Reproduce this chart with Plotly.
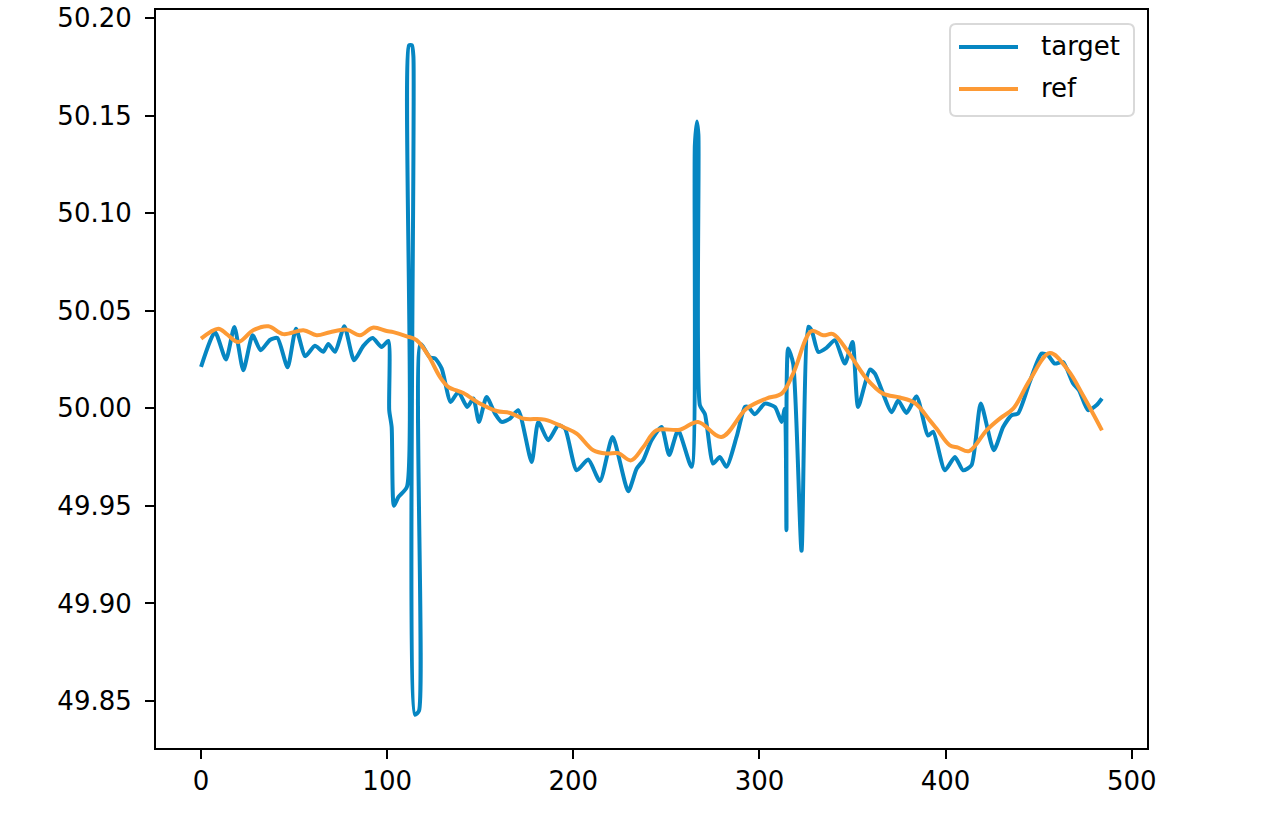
import plotly.graph_objects as go

# ---- data ----
target_x = [0, 7.5, 13.4, 17.9, 22.7, 27.7, 32, 37, 41, 46.5,
            51, 56, 61.2, 65.7, 68.4, 72, 77, 82.2, 87.2, 92.2,
            97, 100.6, 101.1, 102.4, 103.6, 106, 110.6, 111.7, 113.3, 114.1,
            114.9, 117.1, 117.9, 123, 125.7, 129.3, 134.1, 138.2, 143, 146.3,
            149.3, 153.4, 157.9, 161.5, 166, 170.4, 177.6, 181.2, 186.5, 191.9,
            195.5, 201.8, 208, 214.3, 221.1, 229.5, 234, 237.5, 242, 247.4,
            251.5, 256.3, 263.5, 265.3, 266.4, 267.2, 268, 270.7, 275.1, 278.7,
            282.3, 287.7, 292.2, 294, 297.5, 302.9, 308.3, 311.9, 313.6, 314.5,
            315.4, 318.1, 322.6, 326.2, 328, 331.6, 336, 340.5, 345.9, 350,
            353, 359.3, 362, 371, 374.5, 379, 384.4, 390.6, 393.3, 399.6,
            405, 409.4, 413.9, 418.9, 425.9, 430.9, 435.4, 438.9, 445.2, 451.5,
            455, 458.6, 463.1, 468.5, 471.7, 476.5, 481, 484]
target_y = [50.0212, 50.039, 50.025, 50.0417, 50.0195, 50.0374, 50.0297, 50.035, 50.036, 50.021,
            50.0408, 50.0267, 50.032, 50.029, 50.033, 50.0289, 50.042, 50.0246, 50.032, 50.036,
            50.0314, 50.0345, 49.999, 49.9904, 49.950, 49.9545, 49.9597, 50.186, 50.186, 50.18,
            49.843, 49.845, 50.033, 50.026, 50.0256, 50.0203, 50.0032, 50.0084, 50.0007, 50.005,
            49.993, 50.0058, 49.9973, 49.993, 49.9947, 49.999, 49.9725, 49.993, 49.9836, 49.9913,
            49.9896, 49.9682, 49.9737, 49.9627, 49.9853, 49.9575, 49.969, 49.9733, 49.9836, 49.9904,
            49.976, 49.9887, 49.970, 50.135, 50.147, 50.14, 50.0015, 49.997, 49.9717, 49.975,
            49.970, 49.9853, 50.0007, 50.0007, 49.9969, 50.0024, 50.0007, 49.993, 49.9998, 49.9375,
            50.0306, 50.0229, 49.927, 50.0417, 50.040, 50.0289, 50.031, 50.0349, 50.0229, 50.034,
            50.0007, 50.0198, 50.0178, 49.998, 50.004, 49.9976, 50.0061, 49.986, 49.988, 49.9682,
            49.975, 49.9682, 49.9708, 50.0024, 49.9785, 49.9904, 49.9964, 49.9973, 50.0135, 50.028,
            50.0272, 50.0229, 50.0237, 50.0127, 50.0092, 49.999, 50.0015, 50.005]

ref_x = [0, 9.3, 13.8, 20, 28, 36.2, 44.2, 55, 62.1, 69.3,
         78.3, 85.4, 92.2, 99.7, 103.3, 110.5, 115.8, 122, 128.4, 132.8,
         140.9, 149.8, 158.8, 166, 173.1, 184.7, 194.6, 201.8, 210.7, 217.9,
         224.1, 231, 237.5, 244.7, 257.2, 267, 279.6, 293, 303.8, 311.9,
         318.1, 328, 334.2, 339.6, 347.6, 357.5, 366.4, 375.4, 383.5, 391.5,
         395.1, 402.3, 406.7, 412.6, 422, 429.1, 436.3, 445.2, 456, 465.8,
         473.8, 484]
ref_y = [50.0357, 50.0408, 50.038, 50.034, 50.040, 50.042, 50.038, 50.040, 50.0374, 50.039,
         50.0403, 50.0374, 50.0413, 50.0396, 50.039, 50.0369, 50.0349, 50.0272, 50.016, 50.011,
         50.0078, 50.0024, 49.9986, 49.9976, 49.9947, 49.9942, 49.9904, 49.987, 49.9785, 49.9768,
         49.977, 49.9733, 49.980, 49.9887, 49.989, 49.993, 49.9853, 49.9998, 50.005, 50.0075,
         50.0178, 50.0396, 50.0374, 50.038, 50.0289, 50.0152, 50.0075, 50.0055, 50.0027, 49.9938,
         49.9896, 49.981, 49.9798, 49.978, 49.9887, 49.9947, 49.9998, 50.0144, 50.0283, 50.0195,
         50.0067, 49.9887]

series_names = ["target", "ref"]
x_ticks = [0, 100, 200, 300, 400, 500]
y_ticks = [49.85, 49.90, 49.95, 50.00, 50.05, 50.10, 50.15, 50.20]

FONT = "DejaVu Sans"
BLUE = "#0686c2"
ORANGE = "#fd9a35"
LW = 4
W, H = 1271, 815
ML, MR, MT, MB = 156, 124, 10, 67
PW, PH = W - ML - MR, H - MT - MB


def px(xp):
    return (xp - ML) / PW


def py(yp):
    return 1 - (yp - MT) / PH


fig = go.Figure()
fig.add_trace(go.Scatter(x=target_x, y=target_y, mode="lines", name=series_names[0],
                         showlegend=False,
                         line=dict(color=BLUE, width=LW, shape="spline", smoothing=0.6)))
fig.add_trace(go.Scatter(x=ref_x, y=ref_y, mode="lines", name=series_names[1],
                         showlegend=False,
                         line=dict(color=ORANGE, width=LW, shape="spline", smoothing=1.0)))

axis_common = dict(showgrid=False, zeroline=False, showline=True, mirror=True,
                   linecolor="black", linewidth=2, ticks="outside", ticklen=9,
                   tickwidth=2, tickcolor="black", automargin=False,
                   tickfont=dict(family=FONT, size=26, color="black"))

# legend box (rounded rectangle) drawn in paper coordinates
bx0, bx1, by0, by1 = px(950), px(1134), py(116), py(24)
rx, ry = 6 / PW, 6 / PH
box_path = (f"M{bx0+rx},{by1} L{bx1-rx},{by1} Q{bx1},{by1} {bx1},{by1-ry} "
            f"L{bx1},{by0+ry} Q{bx1},{by0} {bx1-rx},{by0} L{bx0+rx},{by0} "
            f"Q{bx0},{by0} {bx0},{by0+ry} L{bx0},{by1-ry} Q{bx0},{by1} {bx0+rx},{by1} Z")
shapes = [dict(type="path", xref="paper", yref="paper", path=box_path,
               fillcolor="rgba(255,255,255,0.8)", line=dict(color="#d9d9d9", width=2))]
annotations = []
for name, color, yp in [(series_names[0], BLUE, 47), (series_names[1], ORANGE, 89)]:
    shapes.append(dict(type="line", xref="paper", yref="paper",
                       x0=px(959), x1=px(1018), y0=py(yp), y1=py(yp),
                       line=dict(color=color, width=LW)))
    annotations.append(dict(xref="paper", yref="paper", x=px(1039), y=py(yp - 1),
                            xanchor="left", yanchor="middle", showarrow=False,
                            text=name, font=dict(family=FONT, size=26, color="black")))

fig.update_layout(
    width=W, height=H,
    margin=dict(l=ML, r=MR, t=MT, b=MB),
    paper_bgcolor="white", plot_bgcolor="white",
    font=dict(family=FONT, size=26, color="black"),
    xaxis=dict(range=[-24.2, 508.2], tickvals=x_ticks,
               ticktext=[str(v) for v in x_ticks], **axis_common),
    yaxis=dict(range=[49.8259, 50.2041], tickvals=y_ticks,
               ticktext=[f"{v:.2f}" for v in y_ticks], ticklabelstandoff=8, **axis_common),
    shapes=shapes,
    annotations=annotations,
    showlegend=False,
)

fig.write_html("out.html", config={"displayModeBar": False},
               post_script="document.body.style.margin='0';document.body.style.overflow='hidden';")
